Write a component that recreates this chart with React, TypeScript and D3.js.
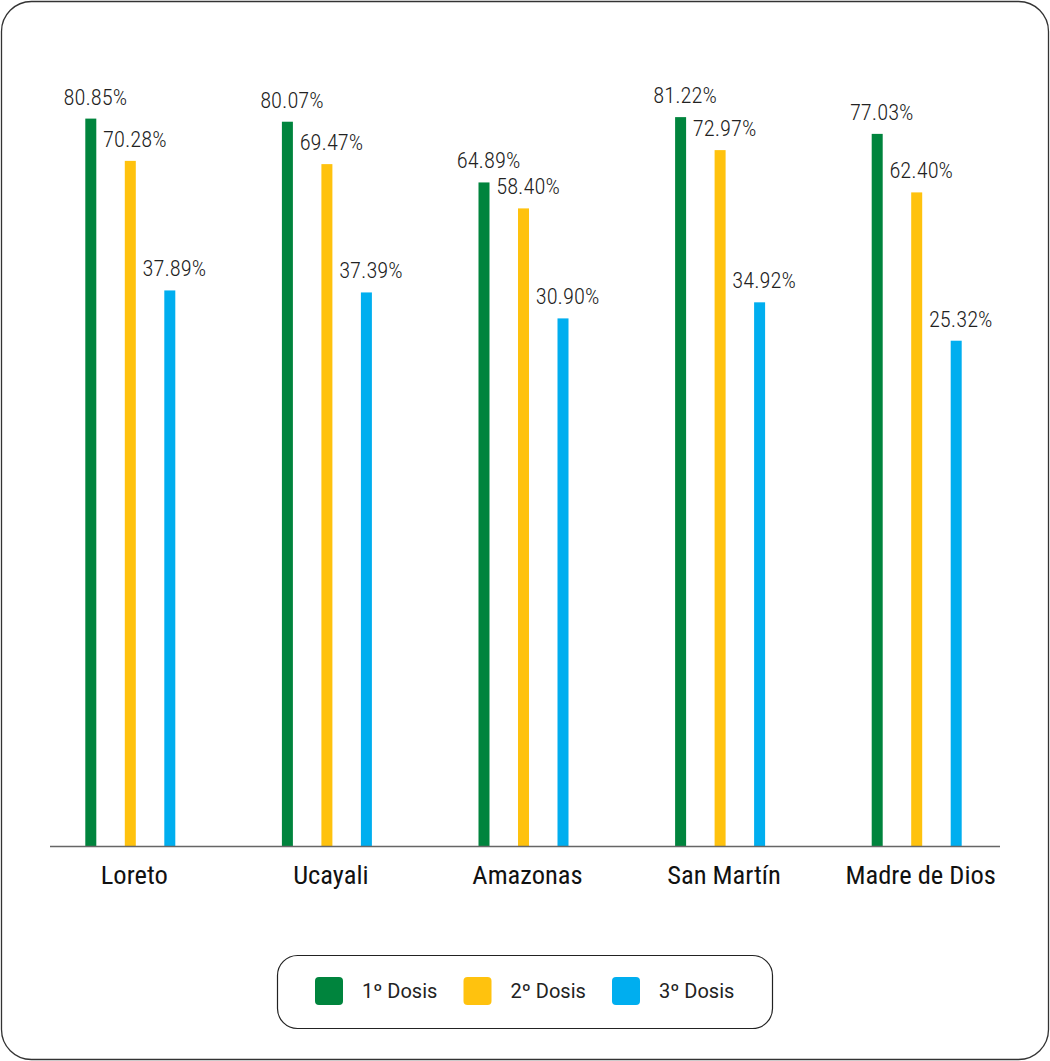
import React from "react";
import * as d3 from "d3";

const categories = ["Loreto", "Ucayali", "Amazonas", "San Martín", "Madre de Dios"];
const series = ["1º Dosis", "2º Dosis", "3º Dosis"];
const dosis1 = [80.85, 80.07, 64.89, 81.22, 77.03];
const dosis2 = [70.28, 69.47, 58.4, 72.97, 62.4];
const dosis3 = [37.89, 37.39, 30.9, 34.92, 25.32];
const colors = ["#00843D", "#FFC20E", "#00AEEF"];

const W = 1050;
const H = 1061;
const COND = "'Liberation Sans Narrow', 'Roboto Condensed', 'Arial Narrow', Roboto, sans-serif";
const SANS = "Roboto, 'Noto Sans', sans-serif";

export default function App() {
  const values = [dosis1, dosis2, dosis3];
  const x0 = d3.scaleBand<string>().domain(categories).range([32, 1015]);
  const y = d3.scaleLinear().domain([-101, 100]).range([846, 42]);
  const barW = 11;
  const groupCenter = (c: string) => (x0(c) as number) + x0.bandwidth() / 2;
  const barCenter = (c: string, si: number) => groupCenter(c) + (si - 1) * 39.5;

  return (
    <svg width={W} height={H} style={{ position: "absolute", left: 0, top: 0 }}>
      <rect x={1.5} y={1.5} width={W - 3} height={H - 3} rx={30} ry={30} fill="#fff" stroke="#333" strokeWidth={1.3} />
      {categories.map((c, ci) =>
        series.map((s, si) => {
          const v = values[si][ci];
          const cx = barCenter(c, si);
          return (
            <g key={c + s}>
              <rect x={cx - barW / 2} y={y(v)} width={barW} height={y(-101) - y(v)} fill={colors[si]} />
              <text x={cx + 4.5} y={y(v) - 14} textAnchor="middle" fontFamily={COND} fontWeight={300} fontSize={22.5} fill="#222">
                {v.toFixed(2)}%
              </text>
            </g>
          );
        })
      )}
      <line x1={50} x2={1000} y1={846.5} y2={846.5} stroke="#666" strokeWidth={1.5} />
      {categories.map((c) => (
        <text key={c} x={groupCenter(c) + 4} y={884} textAnchor="middle" fontFamily={COND} fontWeight={400} fontSize={26.5} fill="#111">
          {c}
        </text>
      ))}
      <rect x={277.5} y={955.5} width={495} height={73} rx={20} ry={20} fill="#fff" stroke="#222" strokeWidth={1.2} />
      {series.map((s, si) => (
        <g key={s} transform={`translate(${315 + si * 148.5},977)`}>
          <rect width={28} height={28} rx={4} fill={colors[si]} />
          <text x={47} y={20.5} fontFamily={SANS} fontSize={20} fill="#222">
            {s}
          </text>
        </g>
      ))}
    </svg>
  );
}
